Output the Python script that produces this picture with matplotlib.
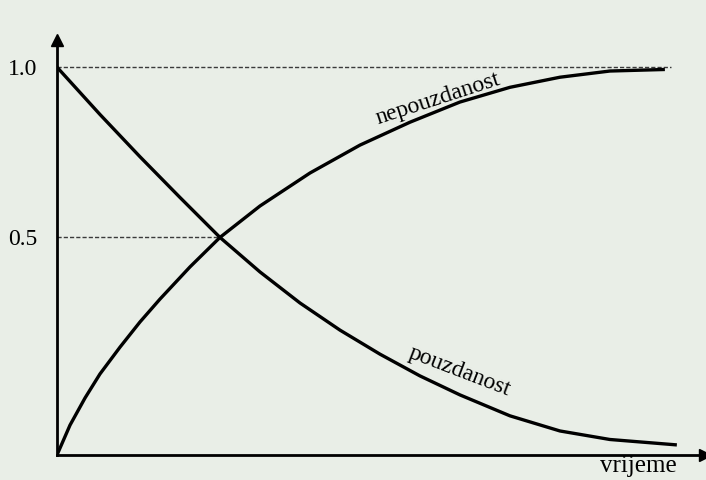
#!/usr/bin/env python3
"""
Pouzdanost i nepouzdanost kroz vrijeme - skica iz udzbenika.
"""

import matplotlib
matplotlib.use("Agg")
import matplotlib.pyplot as plt

# -------------------------------------------------------------------
# Podaci (ocitani sa slike)
# -------------------------------------------------------------------
t_pouzdanost = [0.0, 0.707, 1.365, 2.023, 2.681, 3.339, 3.997, 4.655, 5.313,
                5.970, 6.628, 7.451, 8.273, 9.095, 10.197]
pouzdanost = [1.0, 0.878, 0.769, 0.664, 0.561, 0.472, 0.392, 0.322, 0.260,
              0.204, 0.155, 0.101, 0.062, 0.040, 0.026]

t_nepouzdanost = [0.0, 0.214, 0.461, 0.707, 1.036, 1.365, 1.694, 2.188, 2.681,
                  3.339, 4.161, 4.984, 5.806, 6.628, 7.451, 8.273, 9.095, 10.0]
nepouzdanost = [0.0, 0.077, 0.147, 0.209, 0.278, 0.343, 0.402, 0.485, 0.561,
                0.642, 0.727, 0.799, 0.858, 0.910, 0.948, 0.974, 0.990, 0.994]

tick_levels = [1.0, 0.561]
tick_labels = ["1.0", "0.5"]
t_crossing = 2.681
t_dash_end = 10.1

FONT = "Liberation Serif"
BG = "#e9eee7"

# -------------------------------------------------------------------
# Crtanje
# -------------------------------------------------------------------
fig = plt.figure(figsize=(7.06, 4.80), dpi=100, facecolor=BG)
ax = fig.add_axes([57 / 706, 25 / 480, 648 / 706, 415 / 480])
ax.set_facecolor(BG)

ax.set_xlim(0, 10.66)
ax.set_ylim(0, 1.07)

# isprekidane linije
ax.plot([0, t_dash_end], [1.0, 1.0], color="#3a3a3a", lw=1.0, ls=(0, (3, 1.5)))
ax.plot([0, t_crossing], [tick_levels[1], tick_levels[1]], color="#3a3a3a",
        lw=1.0, ls=(0, (3, 1.5)))

# krivulje
ax.plot(t_pouzdanost, pouzdanost, color="black", lw=2.4,
        solid_capstyle="butt", solid_joinstyle="round")
ax.plot(t_nepouzdanost, nepouzdanost, color="black", lw=2.4,
        solid_capstyle="butt", solid_joinstyle="round")

# osi sa strelicama
for side in ["top", "right"]:
    ax.spines[side].set_visible(False)
for side in ["left", "bottom"]:
    ax.spines[side].set_linewidth(2.0)
ax.plot(1, 0, ">k", transform=ax.transAxes, clip_on=False, markersize=9)
ax.plot(0, 1, "^k", transform=ax.transAxes, clip_on=False, markersize=9)

ax.set_xticks([])
ax.set_yticks(tick_levels)
ax.set_yticklabels(tick_labels, fontfamily=FONT, fontsize=17)
ax.tick_params(axis="y", length=0, pad=14)

# natpisi
ax.text(6.27, 0.918, "nepouzdanost", fontfamily=FONT, fontsize=17,
        rotation=18, ha="center", va="center", rotation_mode="anchor")
ax.text(6.62, 0.215, "pouzdanost", fontfamily=FONT, fontsize=17,
        rotation=-21, ha="center", va="center", rotation_mode="anchor")
ax.text(9.57, -0.028, "vrijeme", fontfamily=FONT, fontsize=18,
        ha="center", va="center", clip_on=False)

fig.savefig("out.png", dpi=100, facecolor=BG)
plt.close(fig)
